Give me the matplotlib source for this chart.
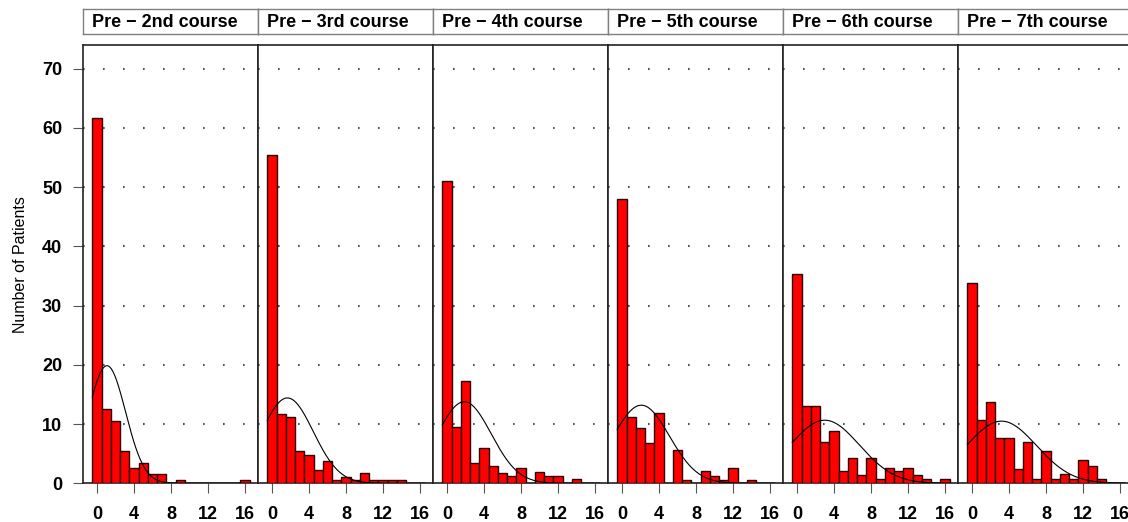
import numpy as np
import matplotlib
matplotlib.use("Agg")
import matplotlib.pyplot as plt

plt.rcParams['font.family'] = ['Liberation Sans', 'DejaVu Sans']
plt.rcParams['font.weight'] = 'bold'

# histogram values (number of patients, per unit bin 0..16)
bins = np.arange(0, 17)
labels = ["Pre \u2212 2nd course", "Pre \u2212 3rd course", "Pre \u2212 4th course",
          "Pre \u2212 5th course", "Pre \u2212 6th course", "Pre \u2212 7th course"]
pre2 = [61.7, 12.6, 10.6, 5.4, 2.5, 3.4, 1.5, 1.5, 0, 0.5, 0, 0, 0, 0, 0, 0, 0.5]
pre3 = [55.4, 11.7, 11.2, 5.4, 4.8, 2.3, 3.8, 0.6, 1.1, 0.6, 1.7, 0.6, 0.6, 0.6, 0.6, 0, 0]
pre4 = [51.0, 9.5, 17.2, 3.5, 5.9, 3.0, 1.8, 1.2, 2.5, 0, 1.9, 1.2, 1.2, 0, 0.7, 0, 0]
pre5 = [48.0, 11.2, 9.3, 6.8, 11.8, 0, 5.6, 0.6, 0, 2.0, 1.2, 0.6, 2.5, 0, 0.6, 0, 0]
pre6 = [35.3, 13.1, 13.1, 7.0, 8.9, 2.1, 4.2, 1.4, 4.2, 0.7, 2.6, 2.1, 2.6, 1.4, 0.7, 0, 0.7]
pre7 = [33.9, 10.7, 13.7, 7.7, 7.7, 2.4, 6.9, 0.7, 5.4, 0.7, 1.5, 0.7, 3.9, 3.0, 0.7, 0, 0]
panels = [pre2, pre3, pre4, pre5, pre6, pre7]

W, H = 1128, 522
fig = plt.figure(figsize=(W / 100, H / 100), dpi=100)


def rect(l, t, r, b):
    return [l / W, 1 - b / H, (r - l) / W, (b - t) / H]


pw = 175
for i, (lab, vals) in enumerate(zip(labels, panels)):
    l = 83 + i * pw
    ax = fig.add_axes(rect(l, 45, l + pw, 483.3))
    vals = np.array(vals)
    ax.bar(bins, vals, width=1, color='#ff0000', edgecolor='#2a0000', linewidth=1.0, zorder=3)

    # normal curve fitted to the histogram
    tot = vals.sum()
    mu = (bins * vals).sum() / tot
    sd = np.sqrt((vals * (bins - mu) ** 2).sum() / tot)
    xx = np.linspace(-0.5, 16.5, 300)
    yy = tot * np.exp(-0.5 * ((xx - mu) / sd) ** 2) / (sd * np.sqrt(2 * np.pi))
    ax.plot(xx, yy, color='black', lw=0.8, zorder=4)

    for g in range(10, 80, 10):
        ax.axhline(g, color='#555555', lw=1.5, ls=(0, (0.8, 8.8)), zorder=1)

    ax.set_xlim(-1.5, 17.4)
    ax.set_ylim(0, 74)
    ax.set_xticks([0, 4, 8, 12, 16])
    ax.tick_params(axis='x', direction='out', length=7, color='#555555', pad=9, labelsize=13)
    if i == 0:
        ax.set_yticks(range(0, 80, 10))
        ax.tick_params(axis='y', direction='out', length=7, color='#555555', pad=8, labelsize=13)
        ax.set_ylabel("Number of Patients", fontweight='normal', fontsize=11.5, labelpad=10)
    else:
        ax.set_yticks([])
    for s in ax.spines.values():
        s.set_color('#222222')
        s.set_linewidth(1.2)

    sax = fig.add_axes(rect(l, 8.7, l + pw, 34))
    sax.set_xticks([])
    sax.set_yticks([])
    for s in sax.spines.values():
        s.set_color('#808080')
        s.set_linewidth(1.0)
    sax.text(9 / pw, 0.45, lab, ha='left', va='center', fontsize=13, transform=sax.transAxes)

fig.savefig("out.png", dpi=100)
